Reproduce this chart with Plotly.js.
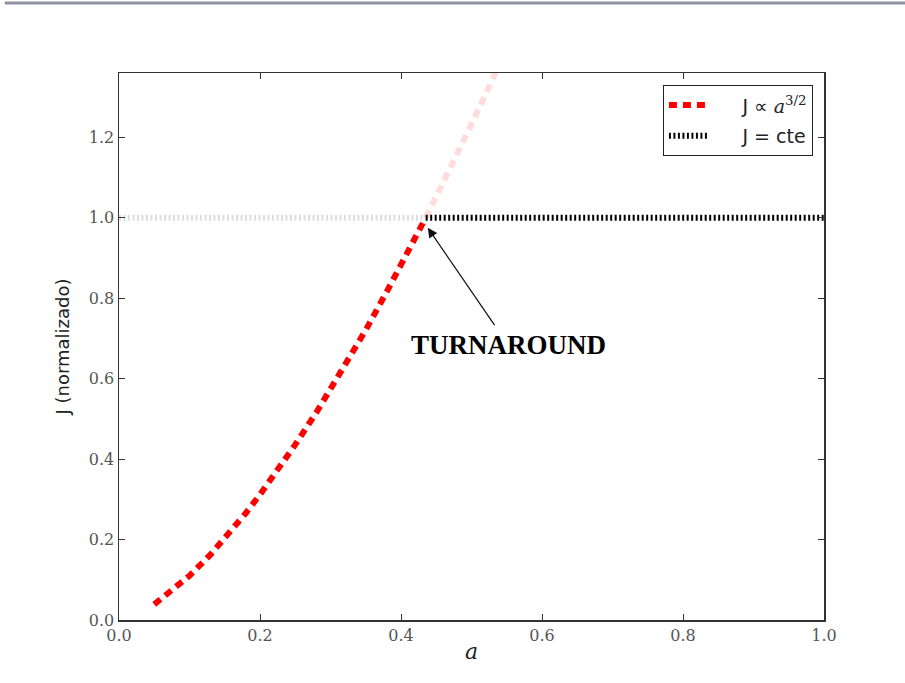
<!DOCTYPE html>
<html>
<head>
<meta charset="utf-8">
<script src="https://cdn.plot.ly/plotly-3.0.1.min.js"></script>
<style>html,body{margin:0;padding:0;background:#fff;}#chart{width:905px;height:683px;}</style>
</head>
<body>
<div id="chart"></div>
<script>
// Red curve J ∝ a^{3/2} (solid part, up to turnaround)
const aGrow = [0.05, 0.08, 0.10, 0.13, 0.15, 0.18, 0.20, 0.23, 0.25, 0.28, 0.30, 0.33, 0.35, 0.38, 0.40, 0.42, 0.435];
const jGrow = [0.039, 0.079, 0.110, 0.163, 0.202, 0.266, 0.312, 0.384, 0.436, 0.516, 0.573, 0.661, 0.721, 0.817, 0.882, 0.949, 1.000];
// Faded continuation beyond turnaround
const aGrowFaded = [0.435, 0.46, 0.49, 0.52, 0.545];
const jGrowFaded = [1.000, 1.087, 1.196, 1.307, 1.402];
// Constant J line
const aConst = [0.435, 1.0];
const jConst = [1.0, 1.0];
const aConstFaded = [0.0, 0.435];
const jConstFaded = [1.0, 1.0];
// Annotation
const turnPoint = [0.438, 0.975];
const turnText = [0.552, 0.684];
const xTicks = [0.0, 0.2, 0.4, 0.6, 0.8, 1.0];
const yTicks = [0.0, 0.2, 0.4, 0.6, 0.8, 1.0, 1.2];

const traces = [
  {x: aConstFaded, y: jConstFaded, mode: 'lines', showlegend: false, hoverinfo: 'skip',
   line: {color: 'rgba(0,0,0,0.13)', width: 6, dash: '2px,2.5px'}},
  {x: aGrowFaded, y: jGrowFaded, mode: 'lines', showlegend: false, hoverinfo: 'skip',
   line: {color: 'rgba(255,0,0,0.14)', width: 6, dash: '8px,6px'}},
  {x: aGrow, y: jGrow, mode: 'lines', legendgroup: 'g1',
   name: '\u2003\u2002J ∝ <span style="font-family:\'DejaVu Serif\',serif"><i>a</i><sup>3/2</sup></span>',
   line: {color: '#ff0000', width: 6, dash: '8px,6px'}},
  {x: aConst, y: jConst, mode: 'lines', name: '\u2003\u2002J = cte', legendgroup: 'g2',
   line: {color: '#000000', width: 6, dash: '2px,2.5px'}}
];

const axisCommon = {
  showgrid: false, zeroline: false, showline: true, mirror: 'ticks',
  linecolor: '#333', linewidth: 1.5, ticks: 'inside', ticklen: 6, tickwidth: 1, tickcolor: '#333',
  tickfont: {family: '"DejaVu Serif", "Liberation Serif", serif', size: 16, color: '#555'},
  tickformat: '.1f'
};

const layout = {
  width: 905, height: 683,
  margin: {l: 119, r: 81, t: 73, b: 63},
  paper_bgcolor: '#fff', plot_bgcolor: '#fff',
  xaxis: Object.assign({}, axisCommon, {
    range: [0, 1], tickvals: xTicks,
    title: {text: '<i>a</i>', font: {family: '"DejaVu Serif", serif', size: 22, color: '#222'}, standoff: 0}
  }),
  yaxis: Object.assign({}, axisCommon, {
    range: [0, 1.36], tickvals: yTicks,
    title: {text: 'J (normalizado)', font: {family: '"DejaVu Sans", sans-serif', size: 18, color: '#222'}, standoff: 14}
  }),
  legend: {
    x: 0.984, y: 0.978, xanchor: 'right', yanchor: 'top',
    bgcolor: '#fff', bordercolor: '#222', borderwidth: 1.2,
    font: {family: '"DejaVu Sans", sans-serif', size: 19, color: '#222'},
    tracegroupgap: 3, itemwidth: 40
  },
  annotations: [{
    x: turnPoint[0], y: turnPoint[1], xref: 'x', yref: 'y',
    ax: turnText[0], ay: turnText[1], axref: 'x', ayref: 'y',
    text: '<b>TURNAROUND</b>',
    font: {family: '"Liberation Serif", "Times New Roman", serif', size: 27, color: '#000'},
    showarrow: true, arrowhead: 2, arrowsize: 1.6, arrowwidth: 1.2, arrowcolor: '#111',
    standoff: 0, startstandoff: 4
  }],
  shapes: [{
    type: 'line', xref: 'paper', yref: 'paper',
    x0: -0.162, x1: 1.115, y0: 1.128, y1: 1.128,
    line: {color: '#8e93a3', width: 3}
  }]
};

Plotly.newPlot('chart', traces, layout, {displayModeBar: false, staticPlot: true});
</script>
</body>
</html>
